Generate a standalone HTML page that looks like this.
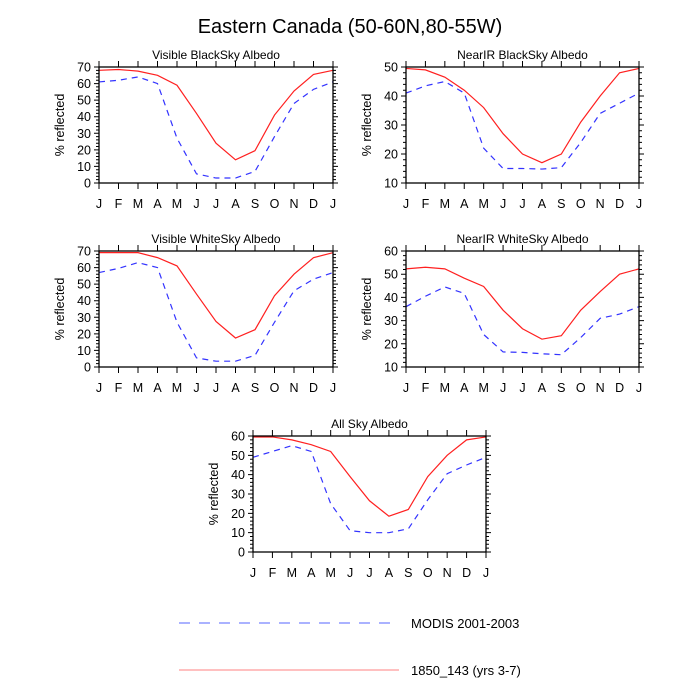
<!DOCTYPE html>
<html><head><meta charset="utf-8"><style>
html,body{margin:0;padding:0;background:#fff;}
svg{display:block;font-family:"Liberation Sans",sans-serif;}
</style></head><body>
<svg id="chart" width="700" height="700" viewBox="0 0 700 700" xmlns="http://www.w3.org/2000/svg">
<text x="350" y="33" font-size="20" text-anchor="middle">Eastern Canada (50-60N,80-55W)</text>
<g id="panels"></g>
<g>
<line x1="179" y1="623" x2="399" y2="623" stroke="#5566ff" stroke-width="1" stroke-dasharray="11,9"/>
<text x="411" y="628" font-size="13">MODIS 2001-2003</text>
<line x1="179" y1="670" x2="399" y2="670" stroke="#ff8080" stroke-width="1"/>
<text x="411" y="675" font-size="13">1850_143 (yrs 3-7)</text>
</g>
</svg>
<script>
const months = ["J","F","M","A","M","J","J","A","S","O","N","D","J"];
const titles = ["Visible BlackSky Albedo","NearIR BlackSky Albedo","Visible WhiteSky Albedo","NearIR WhiteSky Albedo","All Sky Albedo"];
const yMins = [0,10,0,10,0];
const yMaxs = [70,50,70,60,60];
const visBlackModel = [68,68.5,67.5,65,59,42,24,14,19.5,41,55.5,65.5,68];
const visBlackModis = [61,62,64,60,27,5.5,3,3,7,28,48,56.5,61];
const nirBlackModel = [49.5,49,46.5,42,36,27,20,17,20,31,40,48,49.5];
const nirBlackModis = [41,43.5,45,41,22,15,15,14.8,15.3,24,34,37.5,41];
const visWhiteModel = [69,69,69,66,61,44,27.5,17.5,22.5,43,56,66,69];
const visWhiteModis = [57,59.5,63,60,27,5.5,3.5,3.5,7,27,46,53,57];
const nirWhiteModel = [52.3,53,52.3,48.3,44.7,34.5,26.5,22,23.5,34.5,42.5,50,52.3];
const nirWhiteModis = [36,40.5,44.5,41.7,24,16.5,16.3,15.7,15.3,22.7,31,32.8,36];
const allSkyModel = [59.5,59.5,58,55.5,52,39,26.5,18.5,22,39,50,58,59.5];
const allSkyModis = [49,52,55,52,25,11,10,10,12,27,40.5,45,49];

const modelSeries = [visBlackModel,nirBlackModel,visWhiteModel,nirWhiteModel,allSkyModel];
const modisSeries = [visBlackModis,nirBlackModis,visWhiteModis,nirWhiteModis,allSkyModis];
const boxes = [[99,67,333,183],[406,67,639,183],[99,251,333,367],[406,251,639,367],[253,436,486,552]];
const NS="http://www.w3.org/2000/svg";
const root=document.getElementById('panels');
function mk(tag,attrs,parent){const e=document.createElementNS(NS,tag);for(const k in attrs)e.setAttribute(k,attrs[k]);parent.appendChild(e);return e;}
titles.forEach((t,i)=>{
  const [x0,y0,x1,y1]=boxes[i];
  const ymin=yMins[i], ymax=yMaxs[i];
  const xs=k=>x0+(x1-x0)*k/(months.length-1);
  const ys=v=>y1-(y1-y0)*(v-ymin)/(ymax-ymin);
  const g=mk('g',{},root);
  
  
  const tt=mk('text',{x:(x0+x1)/2,y:y0-8,'font-size':12,'text-anchor':'middle'},g);tt.textContent=t;
  
  
  let tk='';
  for(let v=ymin;v<=ymax+0.001;v+=2){
    const y=ys(v);const major=((v-ymin)%10===0);const L=major?5:3;
    tk+=`M${x0} ${y}H${x0-L}M${x1} ${y}H${x1+L}`;
    if(major){const lb=mk('text',{x:x0-8,y:y+4.5,'font-size':12.5,'text-anchor':'end'},g);lb.textContent=v;
      
      }
  }
  months.forEach((m,k)=>{const x=xs(k);tk+=`M${x} ${y1}V${y1+6}M${x} ${y0}V${y0-6}`;
    const lb=mk('text',{x:x,y:y1+25,'font-size':12.5,'text-anchor':'middle'},g);lb.textContent=m;
    
    });
  const tp=mk('path',{d:tk,stroke:'#000','stroke-width':1,fill:'none'},g);
  
  
  const yl=mk('text',{transform:`translate(${x0-35},${(y0+y1)/2}) rotate(-90)`,'font-size':12.5,'text-anchor':'middle'},g);yl.textContent='% reflected';
  
  
  const mline=mk('polyline',{points:modisSeries[i].map((v,k)=>xs(k)+','+ys(v)).join(' '),fill:'none',stroke:'#3333ff','stroke-width':1.2,'stroke-dasharray':'6,5'},g);
  
  
  const rline=mk('polyline',{points:modelSeries[i].map((v,k)=>xs(k)+','+ys(v)).join(' '),fill:'none',stroke:'#ff2020','stroke-width':1.2},g);
  
  
  const fr=mk('rect',{x:x0,y:y0,width:x1-x0,height:y1-y0,fill:'none',stroke:'#000','stroke-width':1.3},g);
  
  
});
</script>
</body></html>
